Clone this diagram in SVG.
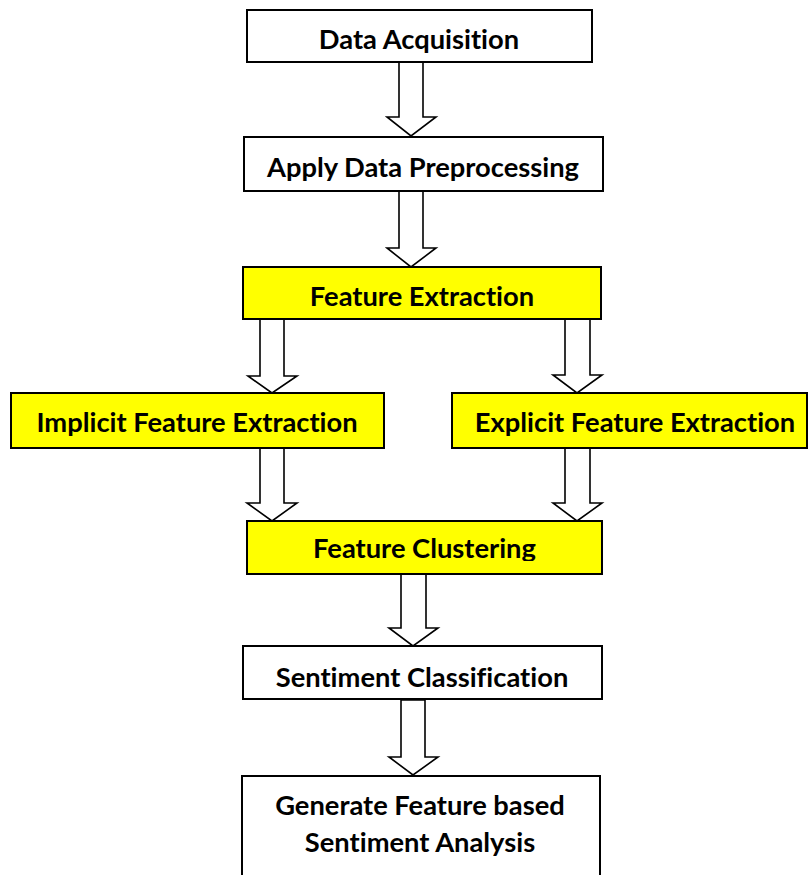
<svg xmlns="http://www.w3.org/2000/svg" width="808" height="875" viewBox="0 0 808 875">
<style>
.box{fill:#ffffff;stroke:#000000;stroke-width:2}
.hl{fill:#ffff00;stroke:#000000;stroke-width:2}
.arr{fill:#ffffff;stroke:#000000;stroke-width:1.6;stroke-linejoin:miter}
.t{font-family:Lato,"Open Sans","Liberation Sans",sans-serif;font-weight:bold;font-size:27.3px;fill:#000000;text-anchor:middle;font-variant-ligatures:none}
</style>
<defs>
<clipPath id="clipFC"><rect x="247" y="521" width="355" height="40"/></clipPath>
</defs>
<rect width="808" height="875" fill="#ffffff"/>
<g id="connectors">
<polygon class="arr" points="399,62 423,62 423,117 436,117 411,136 387,117 399,117"/>
<polygon class="arr" points="399,191 423,191 423,248 436,248 411,267 387,248 399,248"/>
<polygon class="arr" points="260,319 284,319 284,376 297,376 272,393 248,376 260,376"/>
<polygon class="arr" points="565,319 590,319 590,375 602,375 577,393 553,375 565,375"/>
<polygon class="arr" points="260,448 284,448 284,503 297,503 272,521 247,503 260,503"/>
<polygon class="arr" points="565,448 590,448 590,503 602,503 577,521 553,503 565,503"/>
<polygon class="arr" points="401,574 426,574 426,628 438,628 413,646 389,628 401,628"/>
<polygon class="arr" points="401,700 425,700 425,757 438,757 413,775 389,757 401,757"/>
</g>
<g id="n1">
<rect class="box" x="247" y="10" width="345" height="52"/>
<text class="t" x="419" y="49">Data Acquisition</text>
</g>
<g id="n2">
<rect class="box" x="244" y="137" width="359" height="54"/>
<text class="t" x="423" y="177">Apply Data Preprocessing</text>
</g>
<g id="n3">
<rect class="hl" x="243" y="267" width="358" height="52"/>
<text class="t" x="422" y="306">Feature Extraction</text>
</g>
<g id="n4">
<rect class="hl" x="11" y="393" width="373" height="55"/>
<text class="t" x="197" y="432">Implicit Feature Extraction</text>
</g>
<g id="n5">
<rect class="hl" x="452" y="393" width="355" height="55"/>
<text class="t" x="635" y="432">Explicit Feature Extraction</text>
</g>
<g id="n6">
<rect class="hl" x="247" y="521" width="355" height="53"/>
<text class="t" x="424.5" y="558" clip-path="url(#clipFC)">Feature Clustering</text>
</g>
<g id="n7">
<rect class="box" x="243" y="646" width="359" height="53"/>
<text class="t" x="422" y="687">Sentiment Classification</text>
</g>
<g id="n8">
<rect class="box" x="242" y="776" width="358" height="110"/>
<text class="t" x="420" y="815">Generate Feature based</text>
<text class="t" x="420" y="852">Sentiment Analysis</text>
</g>
</svg>
